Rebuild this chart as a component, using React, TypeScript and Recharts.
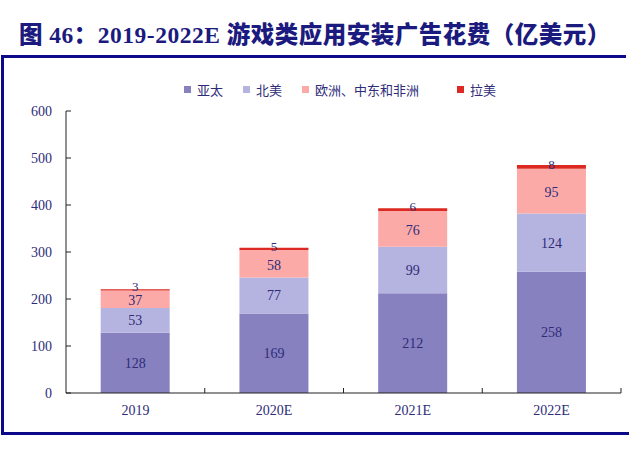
import { BarChart, Bar, XAxis, YAxis, LabelList } from "recharts";

const years = ["2019", "2020E", "2021E", "2022E"];
const asiaPac = [128, 169, 212, 258];
const northAm = [53, 77, 99, 124];
const emea = [37, 58, 76, 95];
const latAm = [3, 5, 6, 8];
const yTicks = [0, 100, 200, 300, 400, 500, 600];

const SERIES = [
  { key: "asia", name: "亚太", color: "#8781c0" },
  { key: "na", name: "北美", color: "#b5b3e0" },
  { key: "emea", name: "欧洲、中东和非洲", color: "#fcaaa7" },
  { key: "latam", name: "拉美", color: "#dc2a22" },
];

const data = years.map((y, i) => ({
  year: y,
  asia: asiaPac[i],
  na: northAm[i],
  emea: emea[i],
  latam: latAm[i],
}));

const NAVY = "#2e2c78";
const SERIF = "'Liberation Serif', 'Times New Roman', serif";
const BAND = (621 - 66) / years.length;

function XTick({ x, y, payload }: any) {
  const right = x + BAND / 2;
  return (
    <g>
      <line x1={right} x2={right} y1={y} y2={y - 5} stroke="#222" />
      <text x={x} y={y + 22} textAnchor="middle" fill={NAVY} fontSize={14} fontFamily={SERIF}>
        {payload.value}
      </text>
    </g>
  );
}

export default function App() {
  return (
    <div style={{ position: "absolute", left: 0, top: 0, width: 642, height: 452, background: "#fff", overflow: "hidden" }}>
      <div
        style={{
          position: "absolute",
          left: 19,
          top: 16,
          fontSize: 23.5,
          fontWeight: 900,
          color: "#1b1a7e",
          fontFamily: "'Liberation Serif', 'Noto Sans CJK SC', serif",
          whiteSpace: "nowrap",
          letterSpacing: 0.5,
        }}
      >
        图 46：2019-2022E 游戏类应用安装广告花费（亿美元）
      </div>
      <div style={{ position: "absolute", left: 2, top: 55, width: 624, height: 3, background: "#0c0a88" }} />
      <div style={{ position: "absolute", left: 1, top: 55, width: 3, height: 380, background: "#0c0a88" }} />
      <div style={{ position: "absolute", left: 1, top: 432, width: 628, height: 3, background: "#0c0a88" }} />

      <div style={{ position: "absolute", left: 184, top: 80, display: "flex", alignItems: "center", fontFamily: "'Noto Sans CJK SC', sans-serif", fontSize: 13, color: NAVY }}>
        {SERIES.map((s, i) => (
          <div key={s.key} style={{ display: "flex", alignItems: "center", marginRight: i === 2 ? 38 : 20 }}>
            <span style={{ width: 7, height: 7, background: s.color, marginRight: 6, display: "inline-block" }} />
            <span>{s.name}</span>
          </div>
        ))}
      </div>

      <div style={{ position: "absolute", left: 0, top: 0 }}>
        <BarChart width={642} height={452} data={data} margin={{ top: 111, right: 21, left: 0, bottom: 29 }} barCategoryGap="25%">
          <YAxis
            domain={[0, 600]}
            ticks={yTicks}
            width={66}
            axisLine={{ stroke: "#222" }}
            tickLine={{ stroke: "#222" }}
            tickSize={-5}
            tickMargin={19}
            tick={{ fill: NAVY, fontSize: 14, fontFamily: SERIF }}
          />
          <XAxis
            dataKey="year"
            height={30}
            axisLine={{ stroke: "#222" }}
            tickLine={false}
            tickSize={0}
            tickMargin={0}
            tick={<XTick />}
          />
          {SERIES.map((s) => (
            <Bar key={s.key} dataKey={s.key} name={s.name} stackId="a" fill={s.color} isAnimationActive={false}>
              <LabelList
                dataKey={s.key}
                position="center"
                fill={NAVY}
                fontSize={s.key === "latam" ? 13 : 14}
                fontFamily={SERIF}
                dy={s.key === "latam" ? -3 : s.key === "emea" ? 1 : 0}
              />
            </Bar>
          ))}
        </BarChart>
      </div>
    </div>
  );
}
